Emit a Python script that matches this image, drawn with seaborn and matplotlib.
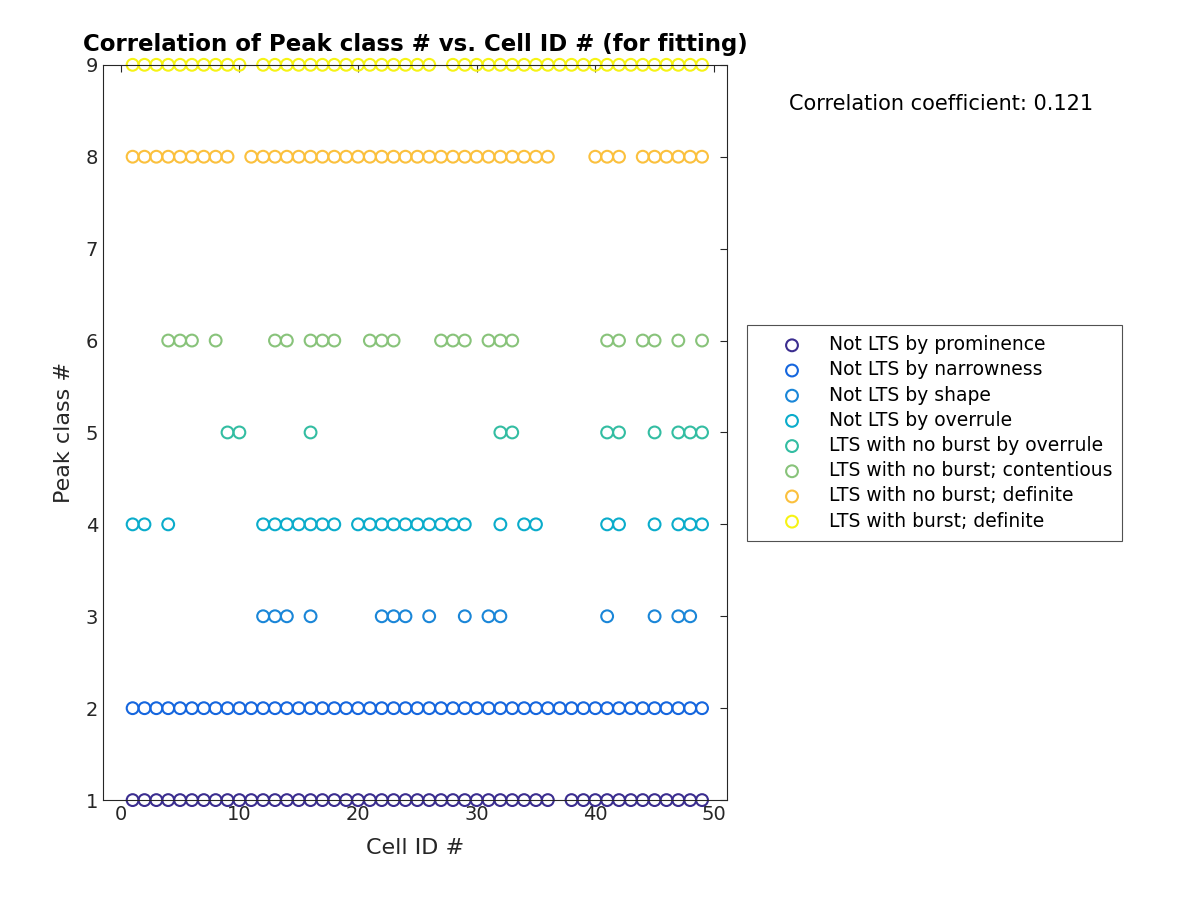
import pandas as pd
import matplotlib
matplotlib.use("Agg")
import matplotlib.pyplot as plt
import seaborn as sns

# cell IDs that show each peak class
class_names = [
    "Not LTS by prominence",
    "Not LTS by narrowness",
    "Not LTS by shape",
    "Not LTS by overrule",
    "LTS with no burst by overrule",
    "LTS with no burst; contentious",
    "LTS with no burst; definite",
    "LTS with burst; definite",
]
class_values = [1, 2, 3, 4, 5, 6, 8, 9]
class_colors = ["#3b2d8f", "#1566de", "#1a86d8", "#0aaccb",
                "#33bda2", "#88c37a", "#fbc03d", "#f6f314"]

cells_1 = list(range(1, 37)) + list(range(38, 50))
cells_2 = list(range(1, 50))
cells_3 = [12, 13, 14, 16, 22, 23, 24, 26, 29, 31, 32, 41, 45, 47, 48]
cells_4 = [1, 2, 4, 12, 13, 14, 15, 16, 17, 18, 20, 21, 22, 23, 24, 25, 26, 27,
           28, 29, 32, 34, 35, 41, 42, 45, 47, 48, 49]
cells_5 = [9, 10, 16, 32, 33, 41, 42, 45, 47, 48, 49]
cells_6 = [4, 5, 6, 8, 13, 14, 16, 17, 18, 21, 22, 23, 27, 28, 29, 31, 32, 33,
           41, 42, 44, 45, 47, 49]
cells_8 = list(range(1, 10)) + list(range(11, 37)) + [40, 41, 42] + list(range(44, 50))
cells_9 = list(range(1, 11)) + list(range(12, 27)) + list(range(28, 50))
class_cells = [cells_1, cells_2, cells_3, cells_4, cells_5, cells_6, cells_8, cells_9]

corr_coef = 0.121

sns.set_style("white")
plt.rcParams["font.family"] = ["DejaVu Sans"]

fig = plt.figure(figsize=(12, 9), dpi=100)
ax = fig.add_axes([0.0858, 0.111, 0.52, 0.817])

for name, val, col, cells in zip(class_names, class_values, class_colors, class_cells):
    df = pd.DataFrame({"cell": cells, "peak": [val] * len(cells)})
    sns.scatterplot(data=df, x="cell", y="peak", ax=ax, marker="o", s=72,
                    linewidth=1.5, label=name, legend=False)
    pts = ax.collections[-1]
    pts.set_facecolor("none")
    pts.set_edgecolor(col)
    pts.set_clip_on(False)

ax.set_xlim(-1.5, 51.1)
ax.set_ylim(1, 9)
ax.set_xticks([0, 10, 20, 30, 40, 50])
ax.set_yticks(range(1, 10))
ax.tick_params(direction="in", top=True, right=True, labelsize=14,
               colors="#262626", length=5, width=0.8)
for sp in ax.spines.values():
    sp.set_color("#262626")
    sp.set_linewidth(0.8)

ax.set_xlabel("Cell ID #", fontsize=16, color="#262626", labelpad=10)
ax.set_ylabel("Peak class #", fontsize=16, color="#262626", labelpad=8)
ax.set_title("Correlation of Peak class # vs. Cell ID # (for fitting)",
             fontsize=16.5, fontweight="bold", color="black", pad=10)

fig.text(0.784, 0.885, f"Correlation coefficient: {corr_coef}",
         fontsize=15, ha="center", va="center", color="black")

leg = ax.legend(loc="center left", bbox_to_anchor=(0.6225, 0.519),
                bbox_transform=fig.transFigure, fontsize=13.5, frameon=True,
                fancybox=False, edgecolor="#262626", borderpad=0.55,
                labelspacing=0.33, handlelength=3.7, handletextpad=0.1,
                borderaxespad=0, labelcolor="black")
leg.get_frame().set_linewidth(0.8)

fig.savefig("out.png", dpi=100)
